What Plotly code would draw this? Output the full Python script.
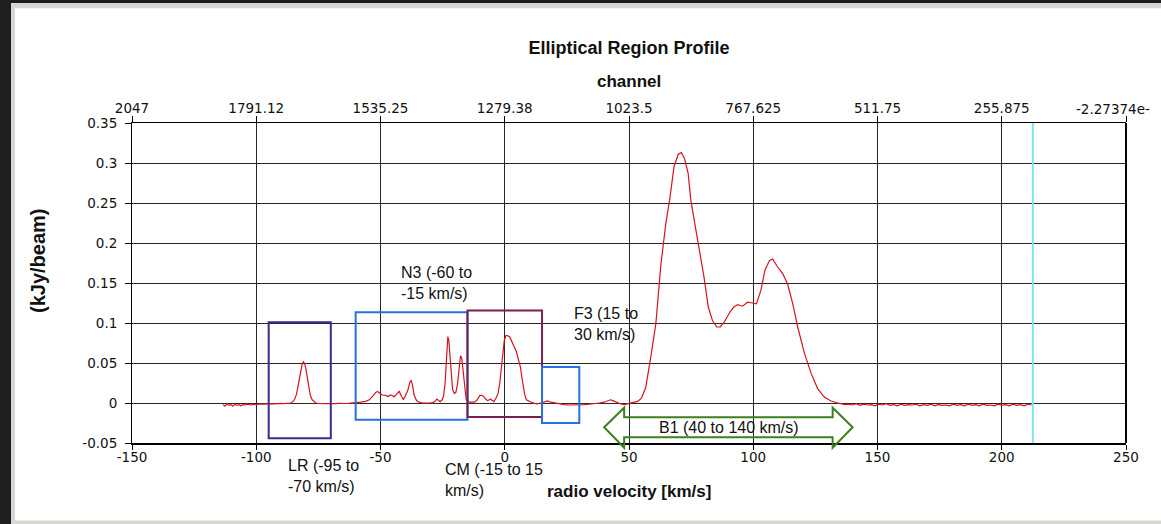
import plotly.graph_objects as go

# ---- spectrum: radio velocity (km/s) vs flux density (kJy/beam) ----
velocity = [
    -113.4, -112.6, -111.8, -111.0, -110.2, -109.4, -108.6, -107.8, -107.0, -106.2,
    -105.4, -104.6, -103.8, -103.0, -102.0, -101.0, -100.0, -99.0, -98.0, -97.0,
    -96.0, -95.0, -94.0, -93.0, -92.0, -91.0, -90.0, -89.0, -88.0, -87.0,
    -86.0, -85.2, -84.5, -83.8, -83.2, -82.6, -82.0, -81.5, -81.0, -80.5,
    -80.0, -79.4, -78.8, -78.2, -77.5, -76.8, -76.0, -75.0, -74.0, -73.0,
    -72.0, -71.0, -70.0, -69.0, -68.0, -67.0, -66.0, -65.0, -64.0, -63.0,
    -62.0, -61.0, -60.0, -58.0, -56.0, -54.5, -53.0, -52.0, -51.2, -50.3,
    -49.3, -48.0, -47.0, -46.0, -45.0, -44.5, -43.5, -42.5, -41.5, -40.8,
    -40.0, -39.0, -38.2, -37.7, -37.1, -36.5, -35.5, -34.5, -33.0, -31.0,
    -30.0, -29.0, -28.0, -27.3, -26.5, -26.0, -25.2, -24.6, -24.0, -23.4,
    -22.9, -22.5, -22.1, -21.5, -21.0, -20.3, -19.7, -19.0, -18.4, -17.8,
    -17.3, -16.8, -16.2, -15.5, -14.5, -13.3, -12.3, -11.3, -10.5, -10.0,
    -9.2, -8.4, -7.7, -6.9, -6.2, -5.7, -5.0, -4.4, -3.7, -2.7,
    -2.0, -1.3, -0.7, -0.2, 0.5, 1.3, 2.0, 2.7, 3.3, 4.0,
    4.7, 5.2, 5.6, 6.0, 6.3, 6.8, 7.3, 8.0, 8.7, 9.7,
    10.7, 12.0, 13.0, 14.5, 16.0, 17.3, 18.5, 20.0, 22.0, 24.0,
    26.0, 28.0, 30.0, 32.0, 34.0, 36.0, 38.0, 40.0, 41.5, 42.5,
    43.5, 45.0, 46.5, 48.0, 49.5, 50.5, 52.0, 53.5, 55.0, 56.7,
    58.7, 60.8, 62.8, 64.8, 66.5, 68.1, 69.8, 71.1, 72.4, 73.8,
    74.9, 76.5, 78.2, 80.2, 81.9, 83.6, 85.3, 86.7, 88.3, 90.7,
    92.2, 93.7, 95.7, 97.7, 99.7, 101.3, 103.1, 104.7, 106.5, 107.8,
    109.8, 111.8, 113.8, 115.9, 117.9, 120.6, 123.3, 125.9, 128.6, 131.3,
    134.0, 135.5, 137.0, 138.5, 140.0, 141.5, 143.0, 144.5, 146.0, 147.5,
    149.0, 150.5, 152.0, 153.5, 155.0, 156.5, 158.0, 159.5, 161.0, 162.5,
    164.0, 165.5, 167.0, 168.5, 170.0, 171.5, 173.0, 174.5, 176.0, 177.5,
    179.0, 180.5, 182.0, 183.5, 185.0, 186.5, 188.0, 189.5, 191.0, 192.5,
    194.0, 195.5, 197.0, 198.5, 200.0, 201.5, 203.0, 204.5, 206.0, 207.5,
    209.0, 210.5, 212.0,
]
flux = [
    -0.002, -0.004, -0.001, -0.003, -0.002, -0.004, -0.0015, -0.003, -0.002, -0.0035,
    -0.002, -0.0025, -0.0015, -0.002, -0.0025, -0.0015, -0.002, -0.0015, -0.001, -0.0015,
    -0.001, -0.0012, -0.0008, -0.001, -0.0006, -0.0009, -0.0005, -0.0008, -0.0004, -0.0006,
    0.0, 0.002, 0.005, 0.011, 0.02, 0.031, 0.042, 0.049, 0.0515, 0.049,
    0.042, 0.03, 0.018, 0.009, 0.004, 0.0015, 0.0, -0.0005, -0.0008, -0.0005,
    -0.0008, -0.0006, -0.0009, -0.0005, -0.0007, -0.0005, -0.0008, -0.0005, -0.0006, -0.0004,
    -0.0003, 0.0, 0.0005, 0.001, 0.002, 0.004, 0.009, 0.013, 0.0145, 0.012,
    0.010, 0.0095, 0.008, 0.010, 0.009, 0.0075, 0.011, 0.0145, 0.008, 0.004,
    0.009, 0.016, 0.026, 0.0285, 0.022, 0.010, 0.003, 0.001, 0.0, -0.0005,
    0.0, 0.0005, 0.002, 0.005, 0.003, 0.0017, 0.004, 0.009, 0.025, 0.060,
    0.083, 0.078, 0.058, 0.030, 0.017, 0.012, 0.013, 0.024, 0.045, 0.059,
    0.056, 0.040, 0.018, 0.004, 0.001, 0.0005, 0.001, 0.003, 0.008, 0.0095,
    0.0095, 0.008, 0.005, 0.003, 0.004, 0.005, 0.003, 0.0017, 0.005, 0.012,
    0.025, 0.045, 0.065, 0.078, 0.0845, 0.084, 0.0825, 0.078, 0.074, 0.069,
    0.064, 0.058, 0.053, 0.050, 0.045, 0.034, 0.022, 0.011, 0.004, 0.002,
    0.001, -0.0005, -0.001, 0.0, 0.001, 0.0025, 0.001, 0.0, -0.001, -0.002,
    -0.0025, -0.0025, -0.002, -0.002, -0.0015, -0.001, 0.0, 0.001, 0.003, 0.004,
    0.003, 0.0005, -0.001, -0.002, -0.001, 0.0, 0.001, 0.002, 0.006, 0.019,
    0.056, 0.099, 0.172, 0.224, 0.257, 0.295, 0.311, 0.313, 0.305, 0.287,
    0.253, 0.224, 0.195, 0.157, 0.12, 0.103, 0.095, 0.095, 0.101, 0.114,
    0.12, 0.123, 0.121, 0.126, 0.125, 0.124, 0.141, 0.166, 0.178, 0.18,
    0.17, 0.162, 0.149, 0.124, 0.095, 0.062, 0.037, 0.018, 0.0075, 0.0025,
    0.0, -0.001, -0.002, -0.0015, -0.0025, -0.001, -0.003, -0.0015, -0.0025, -0.002,
    -0.0035, -0.0015, -0.0025, -0.001, -0.003, -0.002, -0.0035, -0.0015, -0.003, -0.002,
    -0.0025, -0.0015, -0.0035, -0.002, -0.003, -0.0015, -0.0035, -0.002, -0.003, -0.0025,
    -0.0035, -0.0015, -0.003, -0.002, -0.0035, -0.0015, -0.003, -0.002, -0.0035, -0.0015,
    -0.003, -0.0025, -0.0035, -0.0015, -0.003, -0.002, -0.0035, -0.0015, -0.003, -0.002,
    -0.0035, -0.0015, -0.0025,
]

# ---- axis ticks ----
velocity_ticks = [-150, -100, -50, 0, 50, 100, 150, 200, 250]
velocity_labels = ["-150", "-100", "-50", "0", "50", "100", "150", "200", "250"]
flux_ticks = [-0.05, 0, 0.05, 0.1, 0.15, 0.2, 0.25, 0.3, 0.35]
flux_labels = ["-0.05", "0", "0.05", "0.1", "0.15", "0.2", "0.25", "0.3", "0.35"]
channel_ticks = [2047, 1791.125, 1535.25, 1279.375, 1023.5, 767.625, 511.75, 255.875, 0]
channel_labels = ["2047", "1791.12", "1535.25", "1279.38", "1023.5", "767.625",
                  "511.75", "255.875", "-2.27374e-"]

# ---- marked velocity ranges (km/s) ----
region_names = ["LR", "N3", "CM", "F3", "B1"]
region_lo = [-95, -60, -15, 15, 40]
region_hi = [-70, -15, 15, 30, 140]
cursor_velocity = 212.5

# ---- page geometry ----
W, H = 1161, 524
ML, MR, MT, MB = 132, 35, 123, 81
PW, PH = W - ML - MR, H - MT - MB


def px_x(px):
    return (px - ML) / PW


def px_y(py):
    return (H - MB - py) / PH


TICK_FONT = dict(family="DejaVu Sans", size=13.5, color="#111")
BOLD = "Liberation Sans, Arial, sans-serif"
NOTE_FONT = dict(family="Liberation Sans, Arial, sans-serif", size=16, color="#111")
GRID = "#262626"

fig = go.Figure()
fig.add_trace(go.Scatter(
    x=velocity, y=flux, mode="lines",
    line=dict(color="#d4141e", width=1.2),
    showlegend=False, hoverinfo="skip",
))
# carrier for the channel axis along the top
fig.add_trace(go.Scatter(
    x=[channel_ticks[0], channel_ticks[-1]], y=[None, None], xaxis="x2",
    mode="lines", showlegend=False, hoverinfo="skip",
))

shapes = []
box_style = {
    "LR": dict(color="#3b2a8e", y0=-0.044, y1=0.1009),
    "N3": dict(color="#2870e0", y0=-0.0208, y1=0.1134),
    "CM": dict(color="#7a1f4f", y0=-0.0175, y1=0.1155),
    "F3": dict(color="#2870e0", y0=-0.025, y1=0.045),
}
for name, lo, hi in zip(region_names, region_lo, region_hi):
    if name in box_style:
        st = box_style[name]
        shapes.append(dict(type="rect", xref="x", yref="y", x0=lo, x1=hi,
                           y0=st["y0"], y1=st["y1"],
                           line=dict(color=st["color"], width=2),
                           fillcolor="rgba(0,0,0,0)", layer="above"))

# double-headed arrow spanning B1
b_lo = region_lo[region_names.index("B1")]
b_hi = region_hi[region_names.index("B1")]
head = 20 / (PW / 400.0)
y_tip, y_ht, y_hb = px_y(427.3), px_y(407.7), px_y(447.7)
y_st, y_sb = px_y(417.3), px_y(437.3)
a, b = b_lo + head, b_hi - head
arrow_path = (f"M {b_lo},{y_tip} L {a},{y_ht} L {a},{y_st} L {b},{y_st} L {b},{y_ht} "
              f"L {b_hi},{y_tip} L {b},{y_hb} L {b},{y_sb} L {a},{y_sb} L {a},{y_hb} Z")
shapes.append(dict(type="path", xref="x", yref="paper", path=arrow_path,
                   line=dict(color="#3f7f1f", width=2), fillcolor="rgba(0,0,0,0)"))

# cursor line
shapes.append(dict(type="line", xref="x", yref="paper", x0=cursor_velocity, x1=cursor_velocity,
                   y0=0, y1=1, line=dict(color="#7fe3ef", width=2)))
# right frame of the plot
shapes.append(dict(type="line", xref="paper", yref="paper", x0=1, x1=1, y0=0, y1=1,
                   line=dict(color="#000", width=2)))
# window frame
for x0, x1, y0, y1, col in [
    (0, W, 0, 3.3, "#1e1e1e"),
    (0, 11, 0, H, "#1e1e1e"),
    (11, W, 3.3, 8.3, "#d9d7d3"),
    (11, 15, 3.3, H, "#d9d7d3"),
    (15, W, 520.5, H, "#d9d7d3"),
]:
    shapes.append(dict(type="rect", xref="paper", yref="paper",
                       x0=px_x(x0), x1=px_x(x1), y0=px_y(y1), y1=px_y(y0),
                       line=dict(width=0), fillcolor=col, layer="above"))

annotations = [
    dict(text="channel", x=0.5, y=px_y(82), xref="paper", yref="paper",
         showarrow=False, xanchor="center", yanchor="middle",
         font=dict(family=BOLD, size=17, color="#111", weight="bold")),
    dict(text="radio velocity [km/s]", x=0.5, y=px_y(491), xref="paper", yref="paper",
         showarrow=False, xanchor="center", yanchor="middle",
         font=dict(family=BOLD, size=17, color="#111", weight="bold")),
    dict(text="(kJy/beam)", x=px_x(38), y=px_y(261), xref="paper", yref="paper",
         showarrow=False, xanchor="center", yanchor="middle", textangle=-90,
         font=dict(family=BOLD, size=20, color="#111", weight="bold")),
    # last channel label sits at the right page edge, so it is placed by hand
    dict(text=channel_labels[-1], x=px_x(1152), y=px_y(109), xref="paper", yref="paper",
         showarrow=False, xanchor="right", yanchor="middle", font=TICK_FONT),
    dict(text="N3 (-60 to<br>-15 km/s)", x=px_x(399), y=px_y(282.7)),
    dict(text="F3 (15 to<br>30 km/s)", x=px_x(572), y=px_y(323.7)),
    dict(text="LR (-95 to<br>-70 km/s)", x=px_x(286), y=px_y(476)),
    dict(text="CM (-15 to 15<br>km/s)", x=px_x(443), y=px_y(480.3)),
    dict(text="B1 (40 to 140 km/s)", x=px_x(729), y=px_y(427.3), xanchor="center"),
]
for ann in annotations[4:]:
    ann.setdefault("xanchor", "left")
    ann.update(xref="paper", yref="paper", showarrow=False, yanchor="middle",
               align="left", font=NOTE_FONT)

fig.update_layout(
    width=W, height=H,
    margin=dict(l=ML, r=MR, t=MT, b=MB),
    paper_bgcolor="white", plot_bgcolor="white",
    title=dict(text="<b>Elliptical Region Profile</b>", x=0.5, xref="paper",
               y=1 - 48 / H, yref="container", xanchor="center", yanchor="middle",
               font=dict(family=BOLD, size=18, color="#111")),
    xaxis=dict(range=[-150, 250], tickvals=velocity_ticks, ticktext=velocity_labels,
               ticks="outside", ticklen=5, tickcolor="#000", tickfont=TICK_FONT,
               ticklabelstandoff=-4,
               showgrid=True, gridcolor=GRID, gridwidth=1, zeroline=False,
               showline=True, linecolor="#000", linewidth=2),
    xaxis2=dict(range=[2047, 0], overlaying="x", side="top", anchor="y",
                tickvals=channel_ticks, ticktext=channel_labels[:-1] + [""],
                ticks="outside", ticklen=6, tickcolor="#000", tickfont=TICK_FONT,
                ticklabelstandoff=-2,
                showgrid=False, zeroline=False,
                showline=True, linecolor="#000", linewidth=1),
    yaxis=dict(range=[-0.05, 0.35], tickvals=flux_ticks, ticktext=flux_labels,
               ticks="outside", ticklen=6, tickcolor="#000", tickfont=TICK_FONT,
               ticklabelstandoff=5,
               showgrid=True, gridcolor=GRID, gridwidth=1, zeroline=False,
               showline=True, linecolor="#000", linewidth=1),
    shapes=shapes,
    annotations=annotations,
)

fig.write_html("out.html")
